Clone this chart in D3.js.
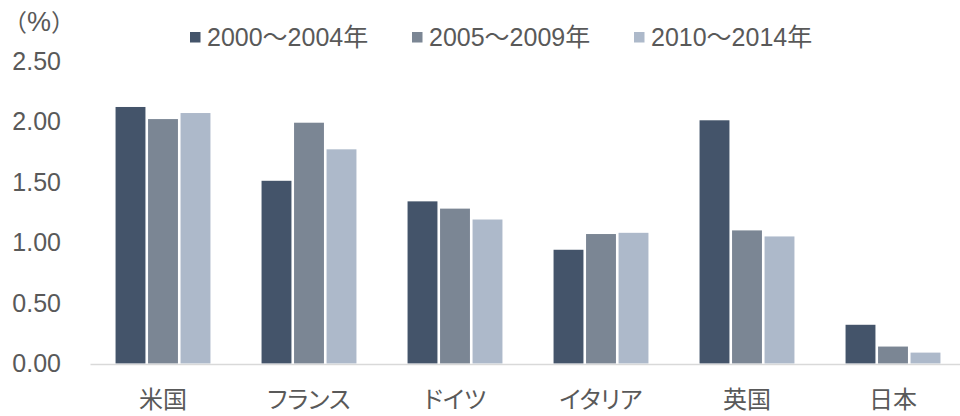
<!DOCTYPE html>
<html>
<head>
<meta charset="utf-8">
<script src="https://cdn.jsdelivr.net/npm/d3@7"></script>
<style>
    body { margin: 0; background: #ffffff; }
    svg { display: block; font-family: "Liberation Sans", Arial, "Noto Sans CJK JP", sans-serif; }
    .jp { font-family: "Noto Sans CJK JP", sans-serif; font-feature-settings: "palt"; }
</style>
</head>
<body>
<div id="chart"></div>
<script>
const countries = ['米国', 'フランス', 'ドイツ', 'イタリア', '英国', '日本'];
const periods = ['2000～2004年', '2005～2009年', '2010～2014年'];
const values2000 = [2.12, 1.51, 1.34, 0.94, 2.01, 0.32];
const values2005 = [2.02, 1.99, 1.28, 1.07, 1.10, 0.14];
const values2010 = [2.07, 1.77, 1.19, 1.08, 1.05, 0.09];
const yTicks = [0, 0.5, 1, 1.5, 2, 2.5];
const colors = ['#44546a', '#7b8694', '#adb9ca'];

const seriesValues = [values2000, values2005, values2010];
const rows = countries.map((country, index) => ({
    country,
    values: periods.map((period, seriesIndex) => ({ period, value: seriesValues[seriesIndex][index] }))
}));

const width = 960;
const height = 416;
const textColor = '#595959';

const svg = d3.select('#chart').append('svg')
    .attr('width', width)
    .attr('height', height);

const xScale = d3.scaleBand()
    .domain(countries)
    .range([90, 966])
    .paddingInner(0.35)
    .paddingOuter(0.175);

const seriesScale = d3.scaleBand()
    .domain(periods)
    .range([0, xScale.bandwidth()])
    .paddingInner(0.08);

const yScale = d3.scaleLinear()
    .domain([0, 2.5])
    .range([363.5, 61]);

const colorScale = d3.scaleOrdinal().domain(periods).range(colors);

// y axis labels only, no line
svg.append('g')
    .attr('transform', 'translate(61,0)')
    .call(d3.axisLeft(yScale).tickValues(yTicks).tickFormat(d3.format('.2f')).tickSize(0).tickPadding(0))
    .call((group) => group.select('.domain').remove())
    .call((group) => group.selectAll('text')
        .attr('fill', textColor)
        .style('font-size', '25px')
        .style('font-family', '"Liberation Sans", Arial, sans-serif'));

// unit label: CJK parens, latin percent sign
const unitLabel = svg.append('text')
    .attr('x', 3)
    .attr('y', 31)
    .attr('fill', textColor)
    .style('font-size', '24px');
unitLabel.append('tspan').style('font-family', '"Noto Sans CJK JP", sans-serif').text('（');
unitLabel.append('tspan').style('font-family', '"Liberation Sans", Arial, sans-serif').style('font-size', '27px').text('%');
unitLabel.append('tspan').style('font-family', '"Noto Sans CJK JP", sans-serif').text('）');

svg.selectAll('.country')
    .data(rows)
    .enter()
    .append('g')
    .attr('class', 'country')
    .attr('transform', (datum) => `translate(${xScale(datum.country)},0)`)
    .selectAll('rect')
    .data((datum) => datum.values)
    .enter()
    .append('rect')
    .attr('x', (datum) => seriesScale(datum.period))
    .attr('y', (datum) => yScale(datum.value))
    .attr('width', seriesScale.bandwidth())
    .attr('height', (datum) => yScale(0) - yScale(datum.value))
    .attr('fill', (datum) => colorScale(datum.period));

// baseline
svg.append('g')
    .attr('transform', `translate(0,${yScale(0) + 0.5})`)
    .call(d3.axisBottom(xScale).tickSize(0).tickPadding(27))
    .call((group) => group.select('.domain').attr('stroke', '#d9d9d9').attr('stroke-width', 1.6))
    .call((group) => group.selectAll('text')
        .attr('class', 'jp')
        .attr('fill', textColor)
        .style('font-size', '24px'));

// legend
const legendItems = svg.append('g')
    .attr('transform', 'translate(190,0)')
    .selectAll('g')
    .data(periods)
    .enter()
    .append('g')
    .attr('transform', (period, index) => `translate(${index * 222},0)`);

legendItems.append('rect')
    .attr('x', 0)
    .attr('y', 32)
    .attr('width', 10.5)
    .attr('height', 10.5)
    .attr('fill', (period) => colorScale(period));

legendItems.append('text')
    .attr('x', 17)
    .attr('y', 46)
    .attr('fill', textColor)
    .style('font-size', '25px')
    .text((period) => period);
</script>
</body>
</html>
